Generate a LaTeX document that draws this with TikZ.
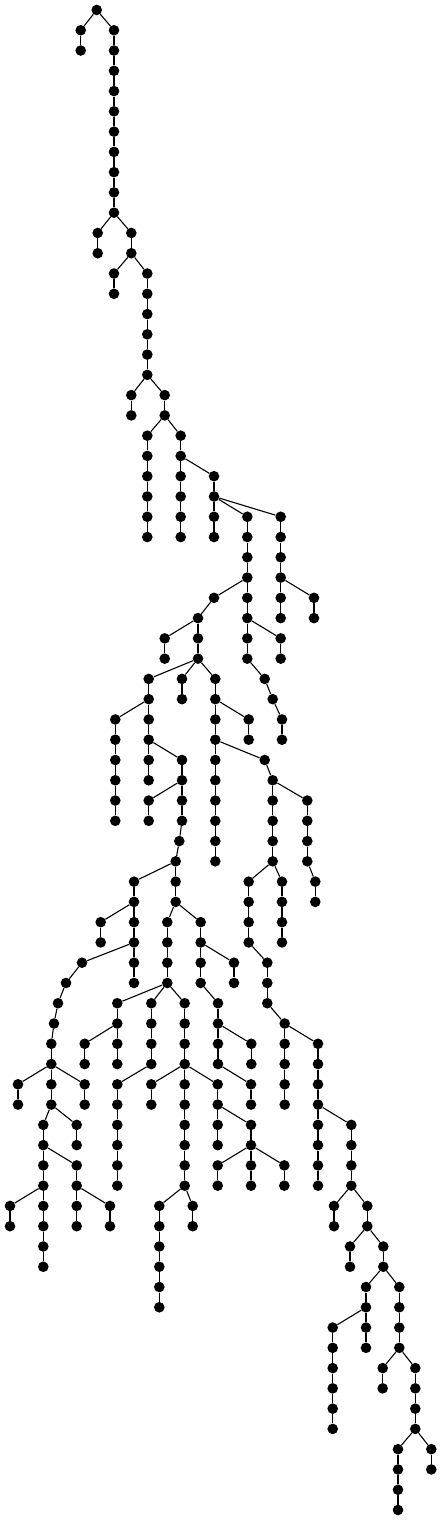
\documentclass[tikz,border=0pt]{standalone}
\usepackage{tikz}
\tikzset{
  vert/.style={circle, fill=black, inner sep=0pt, minimum size=10.6pt},
  edge/.style={line width=1.1pt, black}
}
\begin{document}
\begin{tikzpicture}[x=1pt, y=-20.27pt]
  \useasboundingbox (0pt,10pt) rectangle (442pt,-1510pt);

  \node[vert] (a1) at (96.7,0) {};

  % id / x / level / parent
  \foreach \i/\x/\y/\up in {
    2/80.7/1/1, 3/80.7/2/2,
    4/114/1/1, 5/114/2/4, 6/114/3/5, 7/114/4/6, 8/114/5/7, 9/114/6/8, 10/114/7/9, 11/114/8/10, 12/114/9/11, 13/114/10/12,
    14/97.7/11/13, 15/97.7/12/14,
    16/131.3/11/13, 17/131.3/12/16,
    18/114/13/17, 19/114/14/18,
    20/147.3/13/17, 21/147.3/14/20, 22/147.3/15/21, 23/147.3/16/22, 24/147.3/17/23, 25/147.3/18/24,
    26/131.3/19/25, 27/131.3/20/26,
    28/164.7/19/25, 29/164.7/20/28,
    30/147.3/21/29, 31/147.3/22/30, 32/147.3/23/31, 33/147.3/24/32, 34/147.3/25/33, 35/147.3/26/34,
    36/180.7/21/29, 37/180.7/22/36, 38/180.7/23/37, 39/180.7/24/38, 40/180.7/25/39, 41/180.7/26/40,
    42/214/23/37, 43/214/24/42, 44/214/25/43, 45/214/26/44,
    46/247.3/25/43, 47/247.3/26/46, 48/247.3/27/47, 49/247.3/28/48,
    50/214/29/49, 51/198/30/50,
    52/164.7/31/51, 53/164.7/32/52,
    54/198/31/51, 55/198/32/54,
    56/148.7/33/55, 57/148.7/34/56,
    58/115.3/35/57, 59/115.3/36/58, 60/115.3/37/59, 61/115.3/38/60, 62/115.3/39/61, 63/115.3/40/62,
    64/148.7/35/57, 65/148.7/36/64, 66/148.7/37/65, 67/148.7/38/66,
    68/182/37/65, 69/182/38/68, 70/148.7/39/69, 71/148.7/40/70,
    72/182/39/69, 73/182/40/72, 74/179.3/41/73, 75/175.7/42/74,
    76/134/43/75, 77/134/44/76, 78/100.7/45/77, 79/100.7/46/78, 80/134/45/77, 81/134/46/80,
    82/82/47/81, 83/66/48/82, 84/58/49/83, 85/54/50/84, 86/51.3/51/85, 87/51.3/52/86,
    88/18/53/87, 89/18/54/88, 90/51.3/53/87, 91/51.3/54/90,
    92/43.3/55/91, 93/43.3/56/92, 94/43.3/57/93, 95/43.3/58/94,
    96/10/59/95, 97/10/60/96, 98/43.3/59/95, 99/43.3/60/98, 100/43.3/61/99, 101/43.3/62/100,
    102/76.7/57/93, 103/76.7/58/102, 104/76.7/59/103, 105/76.7/60/104, 106/110/59/103, 107/110/60/106,
    108/76.7/55/91, 109/76.7/56/108,
    110/84.7/53/87, 111/84.7/54/110,
    112/134/47/81, 113/134/48/112,
    114/175.7/43/75, 115/175.7/44/114,
    116/167.3/45/115, 117/167.3/46/116, 118/167.3/47/117, 119/167.3/48/118,
    120/117.3/49/119, 121/117.3/50/120, 122/84.7/51/121, 123/84.7/52/122, 124/117.3/51/121, 125/117.3/52/124,
    126/151.3/49/119, 127/151.3/50/126, 128/151.3/51/127, 129/151.3/52/128,
    130/117.3/53/129, 131/117.3/54/130, 132/117.3/55/131, 133/117.3/56/132, 134/117.3/57/133, 135/117.3/58/134,
    136/184.7/49/119, 137/184.7/50/136, 138/184.7/51/137, 139/184.7/52/138,
    140/151.3/53/139, 141/151.3/54/140,
    142/184.7/53/139, 143/184.7/54/142, 144/184.7/55/143, 145/184.7/56/144, 146/184.7/57/145, 147/184.7/58/146,
    148/159.3/59/147, 149/159.3/60/148, 150/159.3/61/149, 151/159.3/62/150, 152/159.3/63/151, 153/159.3/64/152,
    154/192.7/59/147, 155/192.7/60/154,
    156/217.7/53/139, 157/217.7/54/156, 158/217.7/55/157, 159/217.7/56/158,
    160/251/55/157, 161/251/56/160,
    162/217.7/57/161, 163/217.7/58/162, 164/251/57/161, 165/251/58/164, 166/284.3/57/161, 167/284.3/58/166,
    168/200.7/45/115, 169/200.7/46/168, 170/200.7/47/169, 171/200.7/48/170, 172/218/49/171, 173/218/50/172,
    174/218/51/173, 175/218/52/174, 176/251/53/175, 177/251/54/176,
    178/251.3/51/173, 179/251.3/52/178,
    180/234/47/169, 181/234/48/180,
    182/182/33/55, 183/182/34/182,
    184/215.3/33/55, 185/215.3/34/184, 186/215.3/35/185, 187/215.3/36/186,
    188/215.3/37/187, 189/215.3/38/188, 190/215.3/39/189, 191/215.3/40/190, 192/215.3/41/191, 193/215.3/42/192,
    194/264.7/37/187, 195/272.7/38/194,
    196/272.7/39/195, 197/272.7/40/196, 198/272.7/41/197, 199/272.7/42/198,
    200/248.7/43/199, 201/248.7/44/200, 202/248.7/45/201, 203/248.7/46/202,
    204/267.3/47/203, 205/267.3/48/204, 206/267.3/49/205, 207/284.7/50/206,
    208/284.7/51/207, 209/284.7/52/208, 210/284.7/53/209, 211/284.7/54/210,
    212/318/51/207, 213/318/52/212, 214/318/53/213, 215/318/54/214,
    216/318/55/215, 217/318/56/216, 218/318/57/217, 219/318/58/218,
    220/351.3/55/215, 221/351.3/56/220, 222/351.3/57/221, 223/351.3/58/222,
    224/334/59/223, 225/334/60/224, 226/367.3/59/223, 227/367.3/60/226,
    228/350/61/227, 229/350/62/228, 230/383.3/61/227, 231/383.3/62/230,
    232/366/63/231, 233/366/64/232,
    234/332.7/65/233, 235/332.7/66/234, 236/332.7/67/235, 237/332.7/68/236, 238/332.7/69/237, 239/332.7/70/238,
    240/366/65/233, 241/366/66/240,
    242/399.3/63/231, 243/399.3/64/242, 244/399.3/65/243, 245/399.3/66/244,
    246/382.7/67/245, 247/382.7/68/246,
    248/415.3/67/245, 249/415.3/68/248, 250/415.3/69/249, 251/415.3/70/250,
    252/398/71/251, 253/398/72/252, 254/398/73/253, 255/398/74/254,
    256/431.3/71/251, 257/431.3/72/256,
    258/282/43/199, 259/282/44/258, 260/282/45/259, 261/282/46/260,
    262/307.3/39/195, 263/307.3/40/262, 264/307.3/41/263, 265/307.3/42/264, 266/315.3/43/265, 267/315.3/44/266,
    268/248.7/35/185, 269/248.7/36/268,
    270/247.3/29/49, 271/247.3/30/270, 272/247.3/31/271, 273/247.3/32/272,
    274/264.7/33/273, 275/272.7/34/274, 276/282/35/275, 277/282/36/276,
    278/280.7/31/271, 279/280.7/32/278,
    280/280.7/25/43, 281/280.7/26/280, 282/280.7/27/281, 283/280.7/28/282,
    284/280.7/29/283, 285/280.7/30/284, 286/314/29/283, 287/314/30/286}
  {
    \node[vert] (a\i) at (\x,\y) {};
    \draw[edge] (a\up) -- (a\i);
  }
\end{tikzpicture}
\end{document}
